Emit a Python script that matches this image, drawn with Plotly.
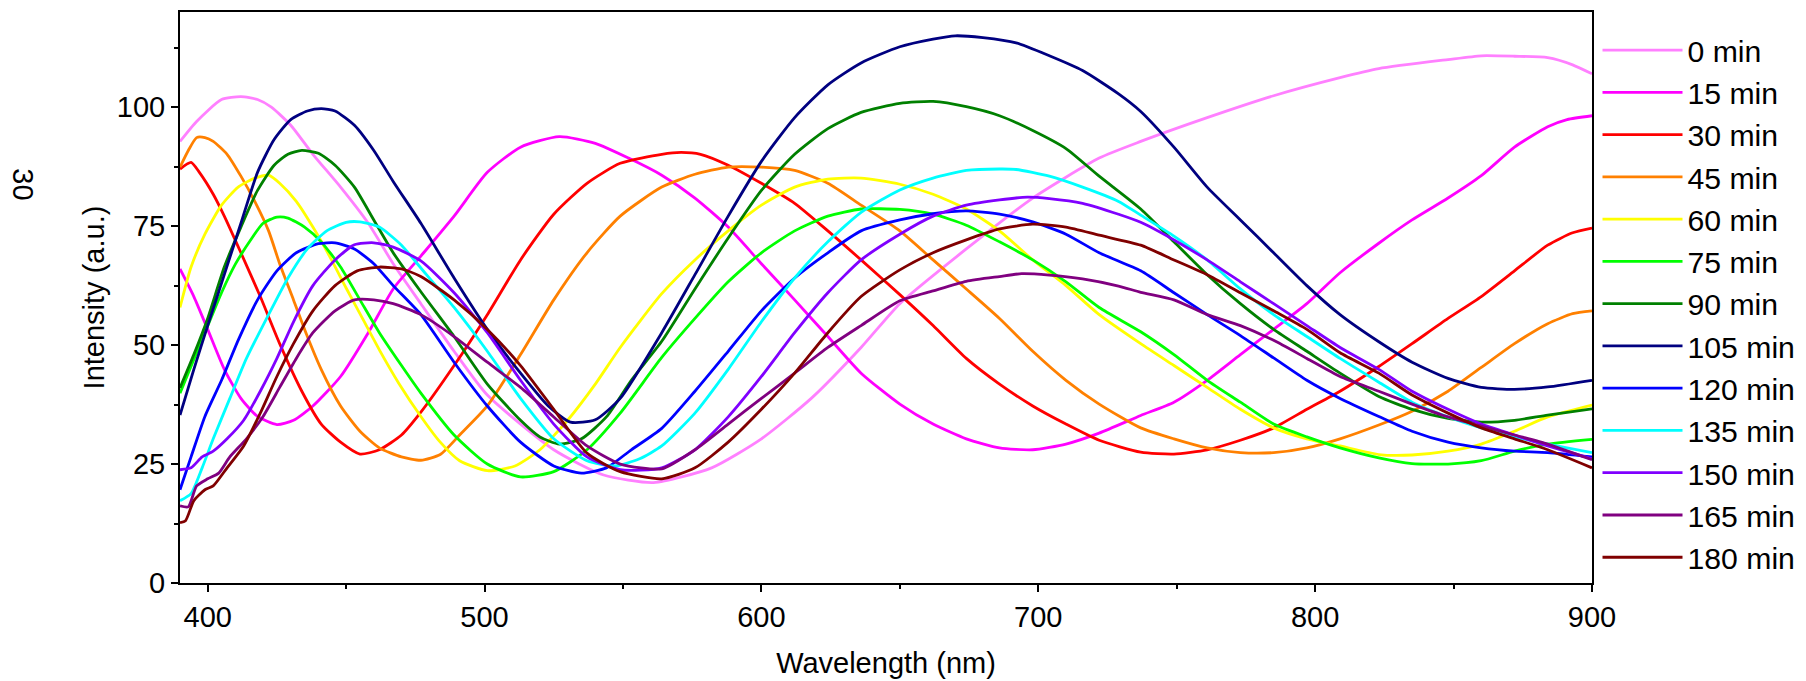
import plotly.graph_objects as go

# ---- data ----
names = ["0 min", "15 min", "30 min", "45 min", "60 min", "75 min", "90 min",
         "105 min", "120 min", "135 min", "150 min", "165 min", "180 min"]
colors = ["#FF80FF", "#FF00FF", "#FF0000", "#FF8000", "#FFFF00", "#00FF00", "#008000",
          "#000080", "#0000FF", "#00FFFF", "#8000FF", "#800080", "#800000"]

wl_0 = [390, 396, 405, 412, 418, 423, 430, 438, 448, 458, 467, 477, 489, 501, 525, 543, 561, 582, 600, 618, 636, 650, 674, 698, 722, 737, 761, 785, 809, 823, 848, 860, 872, 884, 893, 900]
int_0 = [92.8, 97, 101.6, 102.2, 101.6, 100, 96.2, 90.1, 83.2, 75.6, 67.1, 58.7, 48.7, 39.5, 28, 22.7, 21.1, 24.2, 30.3, 38.8, 49.5, 58.7, 70.2, 80.9, 89.3, 92.8, 97.8, 102.4, 106.2, 108.1, 110, 110.8, 110.7, 110.4, 108.9, 107]

wl_15 = [390, 395, 400, 406, 412, 418, 425, 431, 438, 448, 458, 467, 477, 489, 501, 513, 527, 540, 552, 564, 576, 588, 600, 612, 624, 636, 650, 662, 674, 686, 698, 710, 722, 737, 749, 761, 773, 785, 797, 809, 823, 835, 848, 860, 872, 884, 891, 900]
int_15 = [66, 60.2, 53.3, 44.9, 38.8, 35, 33.3, 34.2, 37.2, 43.4, 52.6, 61.8, 68.7, 77.1, 86.3, 91.6, 93.8, 92.4, 89.3, 85.7, 80.9, 74.8, 67.1, 59.5, 51.8, 44.1, 37.6, 33.4, 30.3, 28.4, 28, 29.2, 31.5, 35.2, 38, 42.6, 48, 53.3, 58.7, 65.2, 71.4, 76.3, 80.9, 85.6, 91.6, 95.9, 97.4, 98.2]

wl_30 = [390, 394, 397, 402, 406, 412, 419, 426, 434, 441, 448, 455, 462, 470, 477, 489, 501, 513, 525, 537, 549, 564, 571, 578, 588, 600, 612, 624, 636, 650, 662, 674, 686, 698, 710, 722, 737, 749, 761, 773, 785, 797, 809, 823, 835, 848, 860, 872, 884, 893, 900]
int_30 = [87, 88.4, 86.3, 81.7, 77.1, 69.4, 60.2, 50.3, 40.3, 33.4, 29.6, 27.1, 28, 31.1, 35.9, 45.7, 56.4, 67.9, 77.5, 84, 88.2, 90.1, 90.5, 90.1, 87.8, 84, 79.8, 74, 67.9, 60.6, 54.1, 47.2, 41.8, 37.2, 33.4, 30, 27.5, 27.1, 28, 30, 32.6, 36.5, 40.3, 45.5, 50.3, 55.6, 60.2, 65.6, 71, 73.6, 74.6]

wl_45 = [390, 393, 396, 399, 402, 407, 412, 417, 422, 426, 431, 436, 441, 448, 455, 462, 470, 477, 484, 491, 501, 513, 525, 537, 549, 564, 576, 588, 600, 612, 624, 636, 650, 662, 674, 686, 698, 710, 722, 737, 749, 761, 773, 785, 797, 809, 823, 835, 848, 860, 872, 884, 893, 900]
int_45 = [87.4, 90.9, 93.6, 93.6, 92.8, 90.1, 85.5, 80.2, 74, 67.1, 59.5, 51.8, 44.9, 37.2, 31.9, 28.4, 26.5, 25.8, 27, 31.1, 37.2, 48, 59.5, 69.4, 77.1, 83.2, 85.9, 87.4, 87.4, 86.7, 84, 79.4, 74, 67.9, 61.8, 55.6, 48.7, 42.6, 37.6, 32.6, 30.3, 28.4, 27.4, 27.4, 28.4, 30.3, 33.2, 36.1, 40.3, 45.3, 50.3, 54.5, 56.6, 57.2]

wl_60 = [390, 394, 399, 405, 411, 417, 422, 426, 432, 438, 444, 450, 456, 462, 469, 477, 484, 491, 501, 511, 520, 530, 540, 549, 564, 576, 588, 600, 612, 624, 636, 650, 662, 674, 686, 698, 710, 722, 737, 749, 761, 773, 785, 797, 809, 823, 835, 848, 860, 872, 884, 900]
int_60 = [57.9, 66.4, 73.3, 79.4, 83.2, 85.1, 85.7, 84, 80.2, 74.8, 68.7, 62, 55.5, 49, 42, 35, 29.6, 25.7, 23.6, 24.6, 28, 34.2, 41.8, 49.5, 60.8, 67.9, 74, 79.4, 83.2, 84.9, 85.1, 83.8, 81.7, 78.6, 74, 67.9, 62.5, 56.4, 50.3, 45.7, 41.1, 36.5, 32.6, 30.3, 28.8, 27, 26.9, 27.7, 29.2, 31.9, 34.9, 37.4]

wl_75 = [390, 395, 400, 405, 410, 416, 420, 425, 429, 435, 441, 448, 455, 462, 470, 477, 489, 501, 513, 525, 537, 549, 564, 576, 588, 600, 612, 624, 636, 650, 662, 674, 686, 698, 710, 722, 737, 749, 761, 773, 785, 797, 809, 823, 835, 848, 860, 872, 884, 900]
int_75 = [39.9, 47, 54, 61, 67, 72.5, 75.6, 76.9, 76.7, 74.8, 71.7, 66.4, 59.5, 52.6, 45.7, 39.9, 31.1, 25, 22.3, 23.4, 28, 35.7, 47.4, 55.6, 63.3, 69.4, 74, 77.1, 78.6, 78.5, 77.5, 75.2, 71.7, 67.9, 63.3, 57.9, 52.8, 48, 42.6, 38, 33.4, 30.7, 28.4, 26.3, 25.1, 25, 25.7, 27.7, 29.2, 30.2]

wl_90 = [390, 395, 400, 406, 412, 418, 424, 429, 434, 440, 446, 453, 460, 467, 477, 489, 501, 513, 520, 527, 535, 544, 553, 564, 576, 588, 600, 612, 624, 636, 650, 662, 674, 686, 698, 710, 722, 737, 749, 761, 773, 785, 797, 809, 823, 835, 848, 860, 872, 884, 900]
int_90 = [41, 48, 55.6, 66.4, 74.8, 82.5, 87.8, 90.1, 90.9, 90.3, 87.8, 83.2, 76.3, 69.4, 61.2, 51.8, 41.8, 34.2, 30.7, 29.2, 30.3, 34.9, 42.6, 50.8, 61.8, 72.5, 82.5, 90.1, 95.5, 98.9, 100.8, 101.2, 100.1, 98.2, 95.1, 91.3, 85.5, 78.6, 71.7, 64.8, 58.7, 53.3, 48.7, 44.1, 39.2, 36.5, 34.6, 33.8, 34.2, 35.3, 36.6]

wl_105 = [390, 395, 400, 406, 412, 418, 424, 430, 436, 441, 446, 453, 460, 467, 477, 489, 501, 513, 523, 531, 540, 549, 564, 576, 588, 600, 612, 624, 636, 650, 662, 670, 680, 692, 704, 716, 729, 737, 749, 761, 773, 785, 797, 809, 823, 835, 848, 860, 872, 884, 900]
int_105 = [35.3, 44.9, 54.1, 64.8, 75.6, 86.3, 93.2, 97.4, 99.2, 99.7, 99.2, 96.2, 90.9, 84.4, 75.6, 64.1, 53.3, 44.1, 37.2, 33.8, 34.3, 38.8, 52.6, 64.8, 77.1, 88.6, 97.8, 104.7, 109.3, 112.7, 114.3, 115, 114.6, 113.5, 110.8, 107.7, 102.8, 99.1, 91.6, 83.2, 76.3, 69.4, 62.5, 56.4, 50.7, 46.4, 43, 41.1, 40.7, 41.2, 42.6]

wl_120 = [390, 394, 399, 405, 411, 418, 425, 432, 440, 446, 453, 460, 467, 477, 489, 501, 513, 525, 535, 544, 553, 564, 576, 588, 600, 612, 624, 636, 650, 662, 674, 686, 698, 710, 722, 737, 749, 761, 773, 785, 797, 809, 823, 835, 848, 860, 872, 884, 900]
int_120 = [19.6, 26.5, 35, 42.6, 51, 59.5, 65.6, 69.4, 71.3, 71.5, 70.2, 67.1, 62.5, 56.4, 46.4, 37.2, 29.6, 24.6, 23.1, 24.2, 28, 32.5, 40.3, 48.7, 57.2, 64.1, 69.4, 74, 76.3, 77.6, 78.2, 77.5, 75.9, 73.3, 69.4, 65.6, 61, 56.4, 52, 47.3, 42.6, 38.8, 35, 31.9, 29.6, 28.4, 27.7, 27.4, 26.5]

wl_135 = [390, 394, 398, 402, 408, 414, 422, 429, 436, 443, 450, 455, 462, 470, 477, 489, 501, 513, 525, 537, 547, 556, 564, 576, 588, 600, 612, 624, 636, 650, 662, 674, 686, 692, 704, 716, 729, 737, 749, 761, 773, 785, 797, 809, 823, 835, 848, 860, 872, 884, 900]
int_135 = [17.3, 18.8, 24.2, 30.3, 38.8, 47.2, 56.4, 64.1, 70.2, 74, 75.8, 75.9, 74.8, 71, 66.2, 57.9, 48.7, 38.8, 30.3, 25.7, 24.6, 26.1, 28.8, 35.7, 44.9, 54.9, 64.1, 71.7, 77.9, 82.6, 85.1, 86.7, 87, 86.9, 85.5, 83.2, 80.2, 77.3, 72.9, 67.9, 61.8, 56.4, 51.8, 47.2, 42.2, 38, 34.9, 32.6, 30.7, 29.2, 27.4]

wl_150 = [390, 394, 398, 402, 407, 413, 419, 425, 431, 438, 446, 453, 460, 467, 477, 489, 501, 513, 525, 537, 549, 564, 576, 588, 600, 612, 624, 636, 650, 662, 674, 686, 696, 704, 716, 729, 737, 749, 761, 773, 785, 797, 809, 823, 835, 848, 860, 872, 884, 900]
int_150 = [23.8, 24.2, 26.5, 27.7, 30.3, 34.2, 40.3, 47.2, 54.9, 62.5, 67.9, 71.1, 71.5, 70.6, 67.7, 61, 52.6, 42.6, 33.4, 26.5, 23.8, 24.2, 28, 34.9, 43.4, 52.6, 61, 67.9, 73.3, 77.1, 79.4, 80.5, 81.1, 80.8, 79.8, 77.5, 75.8, 72.1, 67.9, 63.3, 58.7, 54.1, 49.5, 44.9, 40.3, 36.5, 33.4, 31.1, 28.8, 26.1]

wl_165 = [390, 393, 396, 400, 404, 408, 414, 420, 426, 432, 438, 446, 453, 460, 467, 477, 489, 501, 513, 525, 537, 549, 564, 576, 588, 600, 612, 624, 636, 650, 662, 674, 686, 694, 704, 716, 729, 737, 749, 761, 773, 785, 797, 809, 823, 835, 848, 860, 872, 884, 900]
int_165 = [16.2, 16, 20.4, 21.9, 23.1, 26.5, 30.3, 35, 41.1, 47.2, 52.6, 57.2, 59.5, 59.5, 58.7, 56.4, 51.8, 46.4, 41.1, 34.9, 28.8, 25, 24, 28, 33.4, 38.8, 44.1, 49.5, 54.1, 59.3, 61.4, 63.4, 64.4, 65, 64.7, 63.9, 62.4, 61.1, 59.5, 56.4, 54.1, 51, 47.2, 43.4, 40.3, 37.6, 34.9, 33, 31.1, 29.2, 25.9]

wl_180 = [390, 392, 395, 399, 402, 407, 413, 419, 425, 431, 438, 446, 454, 462, 470, 477, 489, 501, 513, 525, 537, 549, 564, 576, 588, 600, 612, 624, 636, 650, 662, 674, 686, 698, 710, 722, 737, 749, 761, 773, 785, 797, 809, 823, 835, 848, 860, 872, 884, 900]
int_180 = [12.7, 13.1, 17.3, 19.6, 20.4, 24.2, 28.8, 35.7, 43.4, 50.3, 57.2, 62.5, 65.6, 66.4, 66, 64.4, 59.5, 53.3, 45.7, 36.5, 27.3, 23.4, 21.9, 24.2, 29.6, 36.5, 44.1, 52.6, 60.2, 65.8, 69.4, 72.1, 74.4, 75.4, 74.8, 73.1, 71, 67.9, 64.8, 61, 57.2, 53.3, 48.4, 44.1, 39.5, 35.7, 32.6, 30.3, 28, 24.2]

x_ticks = [400, 500, 600, 700, 800, 900]
y_ticks = [0, 25, 50, 75, 100]

wls = [wl_0, wl_15, wl_30, wl_45, wl_60, wl_75, wl_90, wl_105, wl_120, wl_135, wl_150, wl_165, wl_180]
ints = [int_0, int_15, int_30, int_45, int_60, int_75, int_90, int_105, int_120, int_135, int_150, int_165, int_180]

FONT = "Liberation Sans, Arial, sans-serif"

fig = go.Figure()
for name, color, x, y in zip(names, colors, wls, ints):
    fig.add_trace(go.Scatter(x=x, y=y, mode="lines", name=name,
                             line=dict(color=color, width=2.8, shape="spline", smoothing=0.6)))

axis_common = dict(showline=True, linecolor="black", linewidth=2, mirror=True,
                   ticks="outside", ticklen=7, tickwidth=2, tickcolor="black",
                   showgrid=False, zeroline=False, automargin=False,
                   tickfont=dict(family=FONT, size=29, color="black"))

fig.update_layout(
    width=1806, height=681,
    margin=dict(l=180, r=214, t=12, b=98, autoexpand=False),
    paper_bgcolor="white", plot_bgcolor="white",
    font=dict(family=FONT, color="black"),
    xaxis=dict(range=[390, 900], tickvals=x_ticks,
               minor=dict(tickvals=[450, 550, 650, 750, 850], ticks="outside", ticklen=4, tickwidth=1.5, tickcolor="black"),
               title=dict(text="Wavelength (nm)", font=dict(family=FONT, size=29), standoff=21),
               **axis_common),
    yaxis=dict(range=[0, 120], tickvals=y_ticks,
               minor=dict(tickvals=[12.5, 37.5, 62.5, 87.5, 112.5], ticks="outside", ticklen=4, tickwidth=1.5, tickcolor="black"),
               title=dict(text="Intensity (a.u.)", font=dict(family=FONT, size=29), standoff=4),
               **axis_common),
    legend=dict(x=1.0039, xanchor="left", y=0.979, yanchor="top",
                font=dict(family=FONT, size=30.2, color="black"),
                tracegroupgap=0, itemwidth=80, maxheight=1.0,
                bgcolor="rgba(0,0,0,0)"),
    showlegend=True,
)

fig.add_annotation(text="30", xref="paper", yref="paper", x=-0.1236, y=0.729,
                   showarrow=False, textangle=90,
                   font=dict(family=FONT, size=29, color="black"))

fig.write_html("out.html")
